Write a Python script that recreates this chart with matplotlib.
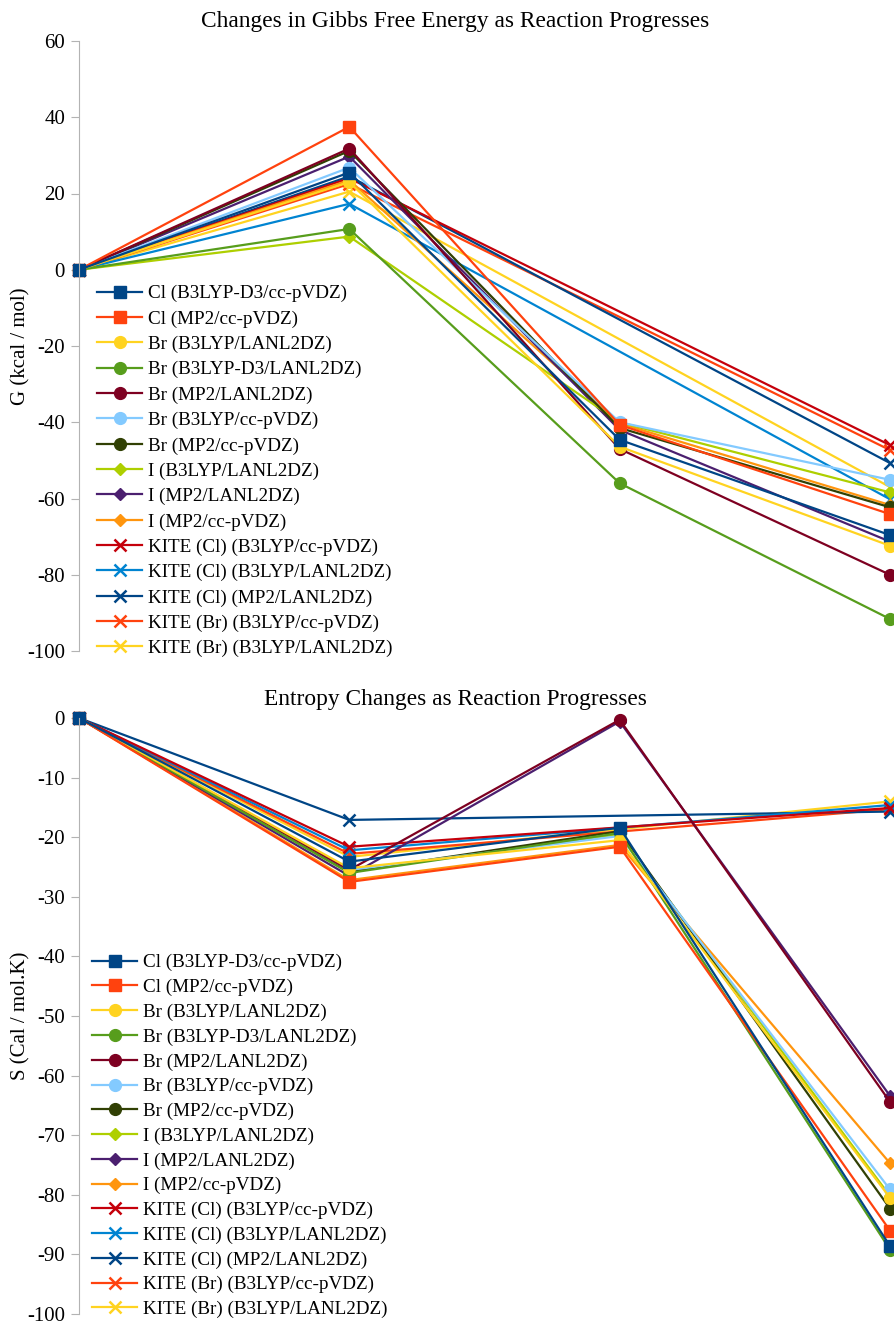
import numpy as np
import matplotlib
matplotlib.use('Agg')
import matplotlib.pyplot as plt

plt.rcParams['font.family'] = ['Liberation Serif', 'DejaVu Serif']
plt.rcParams['axes.unicode_minus'] = False

labels = ['Cl (B3LYP-D3/cc-pVDZ)', 'Cl (MP2/cc-pVDZ)', 'Br (B3LYP/LANL2DZ)',
          'Br (B3LYP-D3/LANL2DZ)', 'Br (MP2/LANL2DZ)', 'Br (B3LYP/cc-pVDZ)',
          'Br (MP2/cc-pVDZ)', 'I (B3LYP/LANL2DZ)', 'I (MP2/LANL2DZ)',
          'I (MP2/cc-pVDZ)', 'KITE (Cl) (B3LYP/cc-pVDZ)', 'KITE (Cl) (B3LYP/LANL2DZ)',
          'KITE (Cl) (MP2/LANL2DZ)', 'KITE (Br) (B3LYP/cc-pVDZ)', 'KITE (Br) (B3LYP/LANL2DZ)']
colors = ['#004586', '#ff420e', '#ffd320', '#579d1c', '#7e0021', '#83caff',
          '#314004', '#aecf00', '#4b1f6f', '#ff950e', '#c5000b', '#0084d1',
          '#004586', '#ff420e', '#ffd320']
markers = ['s', 's', 'o', 'o', 'o', 'o', 'o', 'D', 'D', 'D', 'x', 'x', 'x', 'x', 'x']

nan = np.nan
# Gibbs free energy (kcal/mol), 4 reaction steps; KITE has no value at step 3
G = [
    [0, 25.5, -44.6, -69.6],
    [0, 37.5, -40.7, -64.1],
    [0, 23.0, -46.4, -72.4],
    [0, 10.7, -56.0, -91.6],
    [0, 31.8, -47.0, -80.0],
    [0, 26.8, -40.0, -55.1],
    [0, 31.2, -41.5, -62.3],
    [0, 8.7, -40.0, -58.4],
    [0, 29.7, -42.0, -71.3],
    [0, 23.5, -40.3, -61.7],
    [0, 24.0, nan, -46.0],
    [0, 17.3, nan, -60.2],
    [0, 24.5, nan, -50.7],
    [0, 22.5, nan, -47.3],
    [0, 20.5, nan, -57.0],
]
# Entropy (Cal/mol.K)
S = [
    [0, -24.1, -18.4, -88.6],
    [0, -27.5, -21.6, -86.0],
    [0, -25.2, -20.5, -80.5],
    [0, -26.0, -19.3, -89.2],
    [0, -25.5, -0.3, -64.4],
    [0, -25.5, -19.8, -79.1],
    [0, -25.8, -19.0, -82.3],
    [0, -25.7, -19.5, -80.2],
    [0, -26.5, -0.6, -63.4],
    [0, -27.2, -21.3, -74.7],
    [0, -21.6, nan, -15.1],
    [0, -22.2, nan, -14.6],
    [0, -17.1, nan, -15.7],
    [0, -22.8, nan, -15.3],
    [0, -23.3, nan, -14.0],
]
steps = np.arange(4)

W, H = 895, 1324
fig = plt.figure(figsize=(W / 100, H / 100), dpi=100)


def draw(rect, data, ylim, yticks, ylabel, title, title_y, legend_xy, spacing):
    ax = fig.add_axes(rect)
    for i in reversed(range(len(labels))):
        y = np.array(data[i], dtype=float)
        ok = ~np.isnan(y)
        mew = 1.8 if markers[i] == 'x' else 1
        ax.plot(steps[ok], y[ok], color=colors[i], marker=markers[i], lw=1.6,
                ms=8.5 if markers[i] != 'D' else 6.5, mew=mew, label=labels[i],
                clip_on=False)
    ax.set_xlim(0, 3 * 816 / 811)
    ax.set_ylim(*ylim)
    ax.set_yticks(yticks)
    ax.set_xticks([])
    for s in ['top', 'right', 'bottom']:
        ax.spines[s].set_visible(False)
    ax.spines['left'].set_color('#b3b3b3')
    ax.tick_params(axis='y', length=6, color='#b3b3b3', labelsize=15, pad=4)
    ax.set_ylabel(ylabel, fontsize=15)
    ax.yaxis.set_label_coords((30 - 79) / 816, 0.5)
    fig.text(455 / W, 1 - title_y / H, title, fontsize=16.8, ha='center', va='center')
    h, l = ax.get_legend_handles_labels()
    ax.legend(h[::-1], l[::-1], loc='upper left', frameon=False, fontsize=13.8,
              bbox_to_anchor=(legend_xy[0] / W, 1 - legend_xy[1] / H),
              bbox_transform=fig.transFigure, handlelength=2.35,
              labelspacing=spacing, handletextpad=0.3, borderaxespad=0, borderpad=0)
    return ax


draw([79 / W, 1 - 651 / H, 816 / W, 610 / H], G, (-100, 60), range(-100, 61, 20),
     'G (kcal / mol)', 'Changes in Gibbs Free Energy as Reaction Progresses', 21,
     (97, 285), 0.41)
draw([79 / W, 1 - 1314 / H, 816 / W, 596 / H], S, (-100, 0), range(-100, 1, 10),
     'S (Cal / mol.K)', 'Entropy Changes as Reaction Progresses', 699, (92, 954), 0.38)

fig.savefig('out.png', dpi=100)
